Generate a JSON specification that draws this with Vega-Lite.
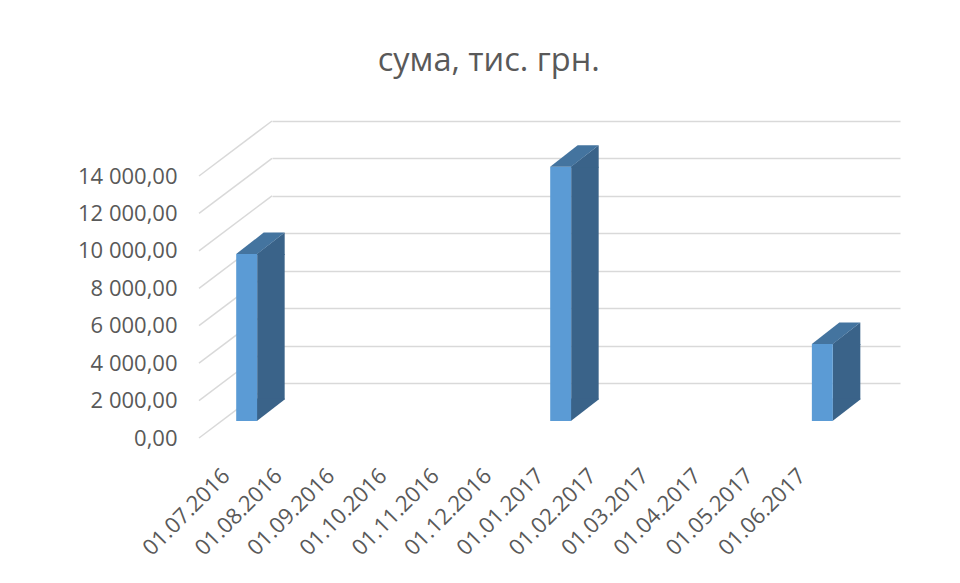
{
  "$schema": "https://vega.github.io/schema/vega-lite/v6.json",
  "width": 628,
  "height": 262,
  "autosize": {"type": "none"},
  "padding": {"left": 272, "top": 121, "right": 60, "bottom": 200},
  "background": "white",
  "title": {
    "text": "сума, тис. грн.",
    "font": "Open Sans",
    "fontSize": 32.5,
    "fontWeight": "normal",
    "color": "#595959",
    "anchor": "middle",
    "frame": "bounds",
    "baseline": "alphabetic",
    "offset": 17
  },
  "config": {"view": {"stroke": null}},
  "datasets": {
    "sums": [
      {"d": "01.07.2016", "v": 8920},
      {"d": "01.08.2016", "v": null},
      {"d": "01.09.2016", "v": null},
      {"d": "01.10.2016", "v": null},
      {"d": "01.11.2016", "v": null},
      {"d": "01.12.2016", "v": null},
      {"d": "01.01.2017", "v": 13590},
      {"d": "01.02.2017", "v": null},
      {"d": "01.03.2017", "v": null},
      {"d": "01.04.2017", "v": null},
      {"d": "01.05.2017", "v": null},
      {"d": "01.06.2017", "v": 4110}
    ],
    "grid": [
      {"g": 0}, {"g": 2000}, {"g": 4000}, {"g": 6000},
      {"g": 8000}, {"g": 10000}, {"g": 12000}, {"g": 14000}
    ]
  },
  "data": {"name": "sums"},
  "encoding": {
    "x": {
      "field": "d",
      "type": "nominal",
      "scale": {
        "domain": ["01.07.2016", "01.08.2016", "01.09.2016", "01.10.2016", "01.11.2016", "01.12.2016", "01.01.2017", "01.02.2017", "01.03.2017", "01.04.2017", "01.05.2017", "01.06.2017"],
        "paddingInner": 0.6,
        "paddingOuter": 0.3
      },
      "axis": {
        "title": null,
        "domain": false,
        "ticks": false,
        "grid": false,
        "labelAngle": -45,
        "labelAlign": "right",
        "labelBaseline": "middle",
        "labelOffset": -72,
        "labelPadding": 89,
        "labelFont": "Open Sans",
        "labelFontSize": 22,
        "labelColor": "#595959",
        "labelOverlap": false,
        "labelBound": false,
        "labelLimit": 400
      }
    }
  },
  "layer": [
    {
      "data": {"name": "grid"},
      "mark": {"type": "rule", "color": "#d9d9d9", "strokeWidth": 1.5, "xOffset": -73, "yOffset": 55},
      "encoding": {
        "x": {"value": 0},
        "x2": {"value": 0},
        "y": {
          "field": "g",
          "type": "quantitative",
          "scale": {"domain": [0, 14000], "nice": false},
          "axis": {
            "title": null,
            "values": [0, 2000, 4000, 6000, 8000, 10000, 12000, 14000],
            "tickCount": 20,
            "domain": false,
            "ticks": false,
            "grid": true,
            "gridColor": "#d9d9d9",
            "gridWidth": 1.5,
            "labelFont": "Open Sans",
            "labelFontSize": 22,
            "labelColor": "#595959",
            "labelPadding": 95,
            "labelOffset": 55,
            "labelBaseline": "middle",
            "labelFlush": false,
            "labelOverlap": false,
            "labelBound": false,
            "labelExpr": "replace(replace(format(datum.value, ',.2f'), ',', ' '), '.', ',')"
          }
        },
        "y2": {"field": "g"}
      }
    },
    {
      "transform": [{"filter": "isValid(datum.v)"}],
      "mark": {"type": "bar", "color": "#3a6389", "width": 27.5, "xOffset": -27.25, "yOffset": 38, "y2Offset": 16.5},
      "encoding": {
        "y": {"field": "v", "type": "quantitative"},
        "y2": {"datum": 0}
      }
    },
    {
      "transform": [{"filter": "isValid(datum.v)"}],
      "mark": {"type": "point", "filled": true, "opacity": 1, "strokeWidth": 0, "size": 4, "color": "#3a6389",
        "shape": "M -41.3 38 L -13.5 16.5 L -13.5 39 L -41.3 39 Z"},
      "encoding": {
        "y": {"field": "v", "type": "quantitative"}
      }
    },
    {
      "transform": [{"filter": "isValid(datum.v)"}],
      "mark": {"type": "point", "filled": true, "opacity": 1, "strokeWidth": 0, "size": 4, "color": "#3a6389",
        "shape": "M -41.3 38 L -41.3 15.5 L -13.5 15.5 L -13.5 16.5 Z"},
      "encoding": {
        "y": {"datum": 0}
      }
    },
    {
      "transform": [{"filter": "isValid(datum.v)"}],
      "mark": {"type": "bar", "color": "#5b9bd5", "xOffset": -51.5, "yOffset": 38, "y2Offset": 38},
      "encoding": {
        "y": {"field": "v", "type": "quantitative"},
        "y2": {"datum": 0}
      }
    },
    {
      "transform": [{"filter": "isValid(datum.v)"}],
      "mark": {"type": "point", "filled": true, "opacity": 1, "strokeWidth": 0, "size": 4, "color": "#44749f",
        "shape": "M -62 38 L -41 38 L -13.5 16.5 L -34.5 16.5 Z"},
      "encoding": {
        "y": {"field": "v", "type": "quantitative"}
      }
    }
  ]
}
